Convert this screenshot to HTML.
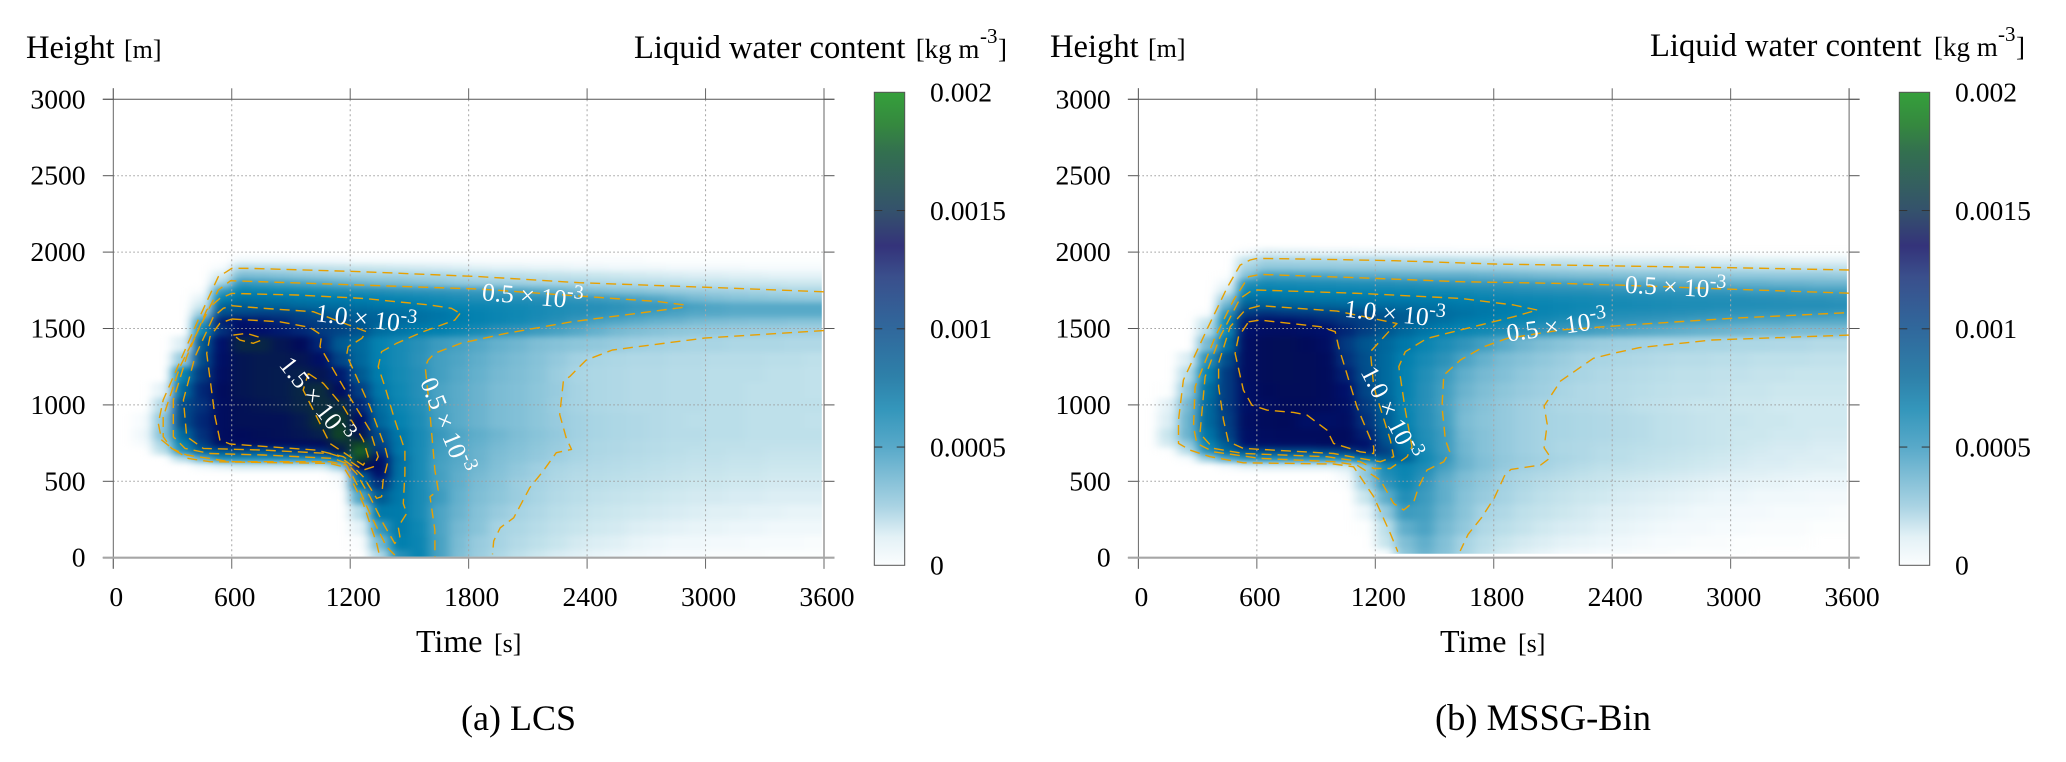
<!DOCTYPE html>
<html lang="en">
<head>
<meta charset="utf-8">
<title>Liquid water content: LCS and MSSG-Bin</title>
<style>
html,body{margin:0;padding:0;background:#fff;}
svg{display:block;font-family:"Liberation Serif","Times New Roman",serif;fill:#000;}
</style>
</head>
<body>
<svg id="fig" xmlns="http://www.w3.org/2000/svg" width="2066" height="762" viewBox="0 0 2066 762">
  <defs>
    <filter id="soft" filterUnits="userSpaceOnUse" x="0" y="0" width="2066" height="762" color-interpolation-filters="sRGB">
      <feGaussianBlur stdDeviation="5.5 2.8"/>
    </filter>
    <linearGradient id="cbar-grad" x1="0" y1="1" x2="0" y2="0">
      <stop offset="0" stop-color="#fbfdfe"/>
      <stop offset="0.06" stop-color="#e3f1f6"/>
      <stop offset="0.125" stop-color="#a9d3e3"/>
      <stop offset="0.25" stop-color="#58a9c9"/>
      <stop offset="0.33" stop-color="#3496bb"/>
      <stop offset="0.4" stop-color="#2e80a9"/>
      <stop offset="0.5" stop-color="#30689c"/>
      <stop offset="0.61" stop-color="#3a4f8c"/>
      <stop offset="0.675" stop-color="#34337a"/>
      <stop offset="0.75" stop-color="#34526c"/>
      <stop offset="0.875" stop-color="#33704f"/>
      <stop offset="0.93" stop-color="#35883f"/>
      <stop offset="1" stop-color="#35a03b"/>
    </linearGradient>
    <clipPath id="clip-lcs"><rect x="113.3" y="99.3" width="708.5" height="457.4"/></clipPath>
    <clipPath id="clip-mssg"><rect x="1138.4" y="99.3" width="708.5" height="454.5"/></clipPath>
  </defs>

  <text y="58" font-size="32.6"><tspan x="26">Height</tspan><tspan x="124" font-size="26">[m]</tspan></text>
  <text y="58" font-size="32.6"><tspan x="634">Liquid water content</tspan><tspan x="915.7" font-size="27">[kg m</tspan><tspan x="980" y="43" font-size="21">-3</tspan><tspan x="998" y="58" font-size="27">]</tspan></text>
  <text y="652" font-size="32"><tspan x="416">Time</tspan><tspan x="494" font-size="26">[s]</tspan></text>
  <text x="461" y="730" font-size="36">(a) LCS</text>

  <text y="57" font-size="32.6"><tspan x="1050">Height</tspan><tspan x="1148" font-size="26">[m]</tspan></text>
  <text y="56" font-size="32.6"><tspan x="1650">Liquid water content</tspan><tspan x="1934" font-size="27">[kg m</tspan><tspan x="1998" y="41" font-size="21">-3</tspan><tspan x="2016" y="56" font-size="27">]</tspan></text>
  <text y="652" font-size="32"><tspan x="1440">Time</tspan><tspan x="1518" font-size="26">[s]</tspan></text>
  <text x="1435" y="730" font-size="36.5">(b) MSSG-Bin</text>

  <g id="panel-lcs"></g>
  <g id="panel-mssg"></g>
</svg>

<script>
// Axis ticks
const timeTicks = [0, 600, 1200, 1800, 2400, 3000, 3600];
const heightTicks = [0, 500, 1000, 1500, 2000, 2500, 3000];
const colorbarTicks = [0, 0.0005, 0.001, 0.0015, 0.002];
const colorbarTickLabels = ["0", "0.0005", "0.001", "0.0015", "0.002"];

// Cell-centre times [s]
const times = [50,150,250,350,450,550,650,750,850,950,1050,1150,1250,1350,1450,1550,1650,1750,1850,1950,2050,2150,2250,2350,2450,2550,2650,2750,2850,2950,3050,3150,3250,3350,3450,3550];

// Liquid water content, units of 1e-5 kg m^-3; one row per height, bottom to top
const heightsLCS = [10,100,200,300,400,500,550,600,650,700,750,800,900,1000,1100,1200,1300,1400,1500,1550,1600,1650,1700,1750,1800,1850,1900,1950];
const lwcLCS = [
[0,0,0,0,0,0,0,0,0,0,0,0,0,22,55,70,47,36,28,23,18,14,11,9,7,6,5,4,3,3,2,2,2,1,1,1],
[0,0,0,0,0,0,0,0,0,0,0,0,2,38,75,68,47,37,29,25,21,18,15,12,10,9,7,6,5,5,4,4,3,3,3,2],
[0,0,0,0,0,0,0,0,0,0,0,0,8,52,78,66,46,38,33,25,23,20,17,15,13,12,10,9,8,7,7,6,6,5,5,5],
[0,0,0,0,0,0,0,0,0,0,0,0,20,80,78,62,46,40,34,29,25,22,19,17,15,14,13,12,11,10,9,9,8,8,7,7],
[0,0,0,0,0,0,0,0,0,0,0,0,45,100,80,62,50,41,36,32,28,24,21,19,17,16,15,14,13,12,12,11,11,10,10,10],
[0,0,0,0,0,0,0,0,0,0,0,2,85,115,82,62,48,42,37,33,28,25,22,20,19,18,17,16,15,14,14,13,13,12,12,12],
[0,0,0,0,0,0,0,0,0,0,0,5,100,125,85,62,48,42,38,34,30,27,23,21,20,19,18,17,16,15,15,14,14,13,13,13],
[0,0,0,0,5,8,12,12,12,12,12,30,135,130,85,62,47,43,39,35,31,27,24,22,21,20,19,18,17,16,16,15,15,14,14,14],
[0,0,0,20,42,60,60,60,60,60,62,85,175,125,88,62,48,44,40,36,33,30,27,24,22,21,20,19,18,17,17,16,16,15,15,15],
[0,0,18,55,95,100,105,100,105,110,115,140,190,115,80,62,49,44,40,37,34,31,28,25,23,22,21,20,19,18,18,17,17,16,16,16],
[0,3,25,70,110,130,132,133,133,133,135,150,175,110,82,62,50,44,41,38,35,32,29,25,23,22,21,20,19,19,18,18,17,17,17,17],
[0,5,35,90,115,132,135,137,138,140,145,175,140,105,80,62,51,45,42,39,36,33,30,26,24,23,22,21,20,20,19,19,18,18,18,18],
[0,3,32,105,118,132,138,138,138,142,155,165,128,92,72,60,48,43,40,37,35,32,29,26,24,23,22,21,20,19,19,19,18,18,18,17],
[0,0,22,105,115,132,138,140,142,147,152,150,118,88,68,58,47,43,40,37,35,32,28,25,23,22,21,21,20,20,19,19,18,18,18,18],
[0,0,8,90,118,133,140,142,143,148,152,132,110,80,65,56,46,43,40,37,35,32,29,25,23,22,21,21,20,20,19,19,18,18,18,17],
[0,0,0,70,112,130,140,142,143,145,140,122,100,75,63,56,48,44,41,38,36,33,28,24,23,22,21,21,20,20,19,19,19,18,18,17],
[0,0,0,30,105,128,140,142,142,140,128,108,92,72,62,54,48,45,42,39,37,34,30,26,24,23,22,22,21,21,20,20,20,19,19,18],
[0,0,0,10,100,125,148,148,140,135,118,100,90,72,62,55,50,47,44,41,39,36,34,32,31,29,27,26,25,24,24,23,23,23,22,22],
[0,0,0,0,65,115,128,125,122,118,112,108,103,88,82,76,74,68,62,55,53,50,47,44,41,38,36,34,32,31,30,29,28,28,27,27],
[0,0,0,0,50,120,125,122,118,112,110,106,100,95,90,85,80,76,72,68,64,60,55,51,47,45,43,41,40,38,37,36,35,35,34,34],
[0,0,0,0,30,105,108,110,110,108,102,98,95,92,88,85,82,76,72,68,65,62,59,56,54,52,50,48,46,44,44,43,43,43,43,43],
[0,0,0,0,15,95,100,95,95,92,90,88,86,82,80,77,72,70,68,66,64,62,60,58,56,54,52,52,50,47,45,44,44,44,44,44],
[0,0,0,0,8,72,85,84,82,80,78,77,75,72,69,66,63,60,58,57,56,55,54,52,50,48,46,44,41,38,36,34,33,32,31,30],
[0,0,0,0,2,50,70,68,66,64,62,60,58,56,54,53,52,51,50,47,45,43,41,38,36,34,33,31,29,28,27,26,25,24,23,23],
[0,0,0,0,0,25,52,50,48,46,44,42,40,38,37,35,33,31,29,28,27,26,25,25,23,22,21,20,19,18,17,16,15,15,14,14],
[0,0,0,0,0,12,37,36,34,32,30,28,27,26,26,25,25,23,21,20,19,18,17,16,15,14,13,12,11,10,10,9,9,8,8,8],
[0,0,0,0,0,3,22,21,20,19,17,16,15,14,13,12,11,10,9,8,8,7,7,6,6,5,5,5,4,4,4,4,3,3,3,3],
[0,0,0,0,0,0,5,5,5,4,4,4,3,3,3,3,3,3,2,2,2,2,2,2,2,2,2,1,1,1,1,1,1,1,1,1]
];

const heightsMSSG = [30,100,200,300,400,500,550,600,650,700,750,800,900,1000,1100,1200,1300,1400,1500,1550,1600,1650,1700,1750,1800,1850,1900,1950,2000];
const lwcMSSG = [
[0,0,0,0,0,0,0,0,0,0,0,0,3,32,40,34,24,17,12,9,7,5,4,3,3,2,2,1,1,1,1,0,0,0,0,0],
[0,0,0,0,0,0,0,0,0,0,0,0,15,36,42,35,25,19,15,12,10,8,7,6,5,4,3,3,2,2,1,1,1,1,0,0],
[0,0,0,0,0,0,0,0,0,0,0,1,18,42,46,38,31,22,19,16,13,11,10,8,7,6,5,4,4,3,3,2,2,2,1,1],
[0,0,0,0,0,0,0,0,0,0,0,6,30,50,48,40,33,25,22,18,16,14,12,10,9,8,7,6,5,5,4,4,3,3,3,2],
[0,0,0,0,0,0,0,0,0,0,0,15,42,58,50,42,34,29,25,21,18,16,14,13,11,10,9,8,7,6,6,5,5,5,4,4],
[0,0,0,0,0,0,0,0,0,0,2,27,52,65,52,42,36,31,26,23,20,18,16,15,13,12,11,10,9,8,8,7,7,6,6,6],
[0,0,0,0,0,0,0,0,0,0,5,32,58,68,55,44,37,32,27,24,22,20,18,16,15,14,13,12,11,10,9,9,8,8,7,7],
[0,0,0,0,4,8,10,10,10,10,12,30,62,70,60,48,40,35,30,27,25,22,20,18,17,16,15,14,13,12,11,10,10,9,9,9],
[0,0,3,28,45,55,58,58,58,58,62,80,100,95,65,52,40,35,31,28,26,24,22,20,19,17,16,15,14,13,12,11,11,10,10,9],
[0,1,20,55,90,102,105,105,105,108,110,118,110,85,62,50,39,34,30,27,25,23,22,20,19,18,17,16,15,14,13,12,11,11,10,10],
[0,12,30,70,100,125,128,130,130,132,132,125,105,80,60,50,39,34,30,27,25,23,22,21,20,19,18,17,16,15,14,13,12,12,11,11],
[0,15,40,82,108,128,132,133,133,133,133,120,102,78,58,50,38,34,30,27,25,24,23,22,21,20,18,17,16,15,14,14,13,13,12,12],
[0,10,40,90,110,130,134,135,128,128,130,115,98,72,56,48,37,33,30,27,25,24,23,22,21,20,18,17,16,15,15,14,14,13,13,13],
[0,8,38,90,112,128,132,135,135,133,128,112,96,70,56,47,38,34,30,27,25,23,22,21,20,18,17,16,15,15,14,14,13,13,13,13],
[0,1,30,85,112,128,135,136,136,134,125,108,92,72,56,48,40,36,32,29,27,24,22,21,20,19,18,17,17,16,15,15,14,14,14,14],
[0,0,20,72,112,130,136,137,136,134,120,105,90,72,58,50,42,38,35,31,28,26,24,22,21,20,19,18,18,17,17,16,16,15,15,15],
[0,0,10,55,105,130,136,137,136,133,115,104,90,74,62,54,46,41,37,34,31,28,25,24,23,22,21,20,20,19,19,18,18,18,17,17],
[0,0,0,38,85,130,136,137,135,130,112,102,92,80,69,60,53,48,43,39,36,33,30,28,27,26,25,25,24,24,23,23,22,22,21,21],
[0,0,0,20,65,125,130,130,128,125,118,110,102,92,82,74,68,64,60,56,53,51,49,47,45,44,43,42,41,40,39,38,38,37,37,37],
[0,0,0,15,70,122,125,125,122,118,113,110,104,98,90,85,78,75,70,66,62,58,56,54,53,52,51,49,48,47,46,45,45,44,44,44],
[0,0,0,2,55,112,115,113,112,110,108,106,102,98,92,88,84,80,76,72,68,65,62,60,58,57,56,55,54,53,53,52,52,51,51,50],
[0,0,0,0,42,100,100,98,97,95,93,92,90,88,85,83,80,79,77,72,70,68,66,64,63,62,61,60,60,59,58,58,57,57,57,56],
[0,0,0,0,30,85,85,83,82,81,80,79,78,77,76,75,73,70,68,66,65,64,63,62,61,60,59,58,58,57,57,56,55,54,54,53],
[0,0,0,0,12,68,74,72,71,70,69,68,67,66,65,64,63,61,59,57,56,55,55,54,53,53,52,52,51,51,50,49,49,48,47,47],
[0,0,0,0,6,55,62,61,60,59,58,57,56,55,54,53,52,51,51,50,49,48,47,46,45,44,44,43,43,42,41,41,40,40,39,39],
[0,0,0,0,1,35,48,47,46,45,44,43,43,42,42,42,42,41,40,39,38,37,36,36,35,34,34,33,32,32,31,31,30,30,30,29],
[0,0,0,0,0,25,32,32,31,31,30,30,29,29,28,27,27,26,26,25,24,24,23,22,22,21,21,20,20,19,19,18,18,17,17,17],
[0,0,0,0,0,18,25,24,24,24,23,23,22,21,21,20,19,18,17,16,15,15,14,13,13,12,12,11,11,10,10,9,9,8,8,8],
[0,0,0,0,0,4,10,9,8,7,7,6,6,5,4,4,3,3,3,2,2,2,2,2,2,2,2,2,1,1,1,1,1,1,1,1]
];

// Contours: [time s, height m]
const contoursLCS = [
[[3600,1740],[2994,1770],[2361,1800],[1861,1839],[1260,1872],[700,1893],[600,1894],[574,1872],[532,1839],[422,1533],[253,1032],[228,879],[245,770],[304,709],[380,650],[490,628],[1097,617],[1165,595],[1207,508],[1266,355],[1334,93],[1350,6]],
[[3600,1486],[2994,1437],[2528,1359],[2395,1293],[2312,1185],[2280,1156],[2261,938],[2294,785],[2321,709],[2244,687],[2177,567],[2110,458],[2028,261],[1960,196],[1927,109],[1921,22]],
[[1426,17],[1384,72],[1300,290],[1232,486],[1182,606],[1097,628],[591,628],[372,672],[295,715],[253,792],[253,923],[338,1250],[456,1555],[532,1752],[594,1813],[1260,1784],[1861,1758],[2762,1676],[2896,1654],[2896,1640],[2660,1600],[2328,1545],[1994,1469],[1762,1404],[1628,1338],[1595,1294],[1580,1250],[1600,1000],[1629,573],[1646,442],[1604,399],[1629,181],[1629,6]],
[[1756,1599],[1730,1555],[1570,1479],[1435,1403],[1359,1348],[1342,1250],[1376,1119],[1426,901],[1477,704],[1477,552],[1469,355],[1486,290],[1443,202],[1452,137],[1426,93],[1367,224],[1300,399],[1232,551],[1182,617],[1114,650],[760,672],[490,682],[363,715],[304,792],[304,1032],[372,1315],[473,1621],[540,1697],[600,1730],[928,1719],[1266,1697],[1604,1654],[1713,1632],[1756,1599]],
[[600,1649],[760,1632],[1013,1610],[1283,1479],[1258,1435],[1190,1381],[1182,1326],[1232,1184],[1300,988],[1376,726],[1393,639],[1367,508],[1359,399],[1334,388],[1266,530],[1215,595],[1148,661],[1097,682],[760,704],[456,715],[372,792],[355,1032],[414,1315],[507,1577],[557,1632],[600,1649]],
[[600,1562],[844,1544],[996,1507],[1055,1457],[1047,1381],[1165,1119],[1300,835],[1342,661],[1317,595],[1266,573],[1165,661],[1030,704],[591,744],[540,770],[515,923],[473,1337],[490,1446],[540,1534],[600,1562]],
[[608,1457],[675,1468],[743,1442],[751,1424],[709,1403],[642,1424],[608,1457]],
[[988,1206],[1064,1141],[1165,988],[1266,770],[1291,661],[1266,606],[1199,661],[1097,748],[1030,923],[962,1097],[988,1206]]
];
const contoursMSSG = [
[[3600,1883],[3005,1898],[2139,1915],[1801,1922],[1293,1944],[955,1952],[600,1959],[566,1948],[515,1915],[448,1763],[346,1490],[228,1163],[203,901],[203,748],[262,704],[363,661],[532,621],[989,613],[1090,595],[1192,399],[1276,159],[1314,39]],
[[3600,1457],[2907,1425],[2539,1375],[2406,1338],[2305,1305],[2138,1156],[2055,993],[2071,873],[2055,720],[2088,655],[2038,607],[1887,578],[1854,535],[1804,393],[1738,262],[1670,153],[1630,44]],
[[3600,1731],[3005,1757],[2437,1784],[2139,1795],[1631,1806],[1124,1832],[617,1854],[558,1839],[482,1686],[389,1446],[287,1119],[279,857],[296,748],[380,693],[617,650],[989,628],[1107,606],[1226,508],[1293,355],[1344,312],[1395,366],[1420,464],[1462,573],[1547,628],[1577,693],[1555,770],[1538,988],[1547,1195],[1631,1294],[1750,1381],[1868,1435],[2139,1490],[2473,1522],[3005,1567],[3600,1604]],
[[2020,1621],[1902,1654],[1631,1697],[1124,1730],[600,1752],[566,1741],[515,1697],[414,1446],[338,1184],[312,813],[380,715],[532,682],[955,661],[1124,628],[1192,584],[1276,584],[1361,661],[1386,726],[1352,966],[1319,1250],[1352,1348],[1462,1435],[1665,1501],[1902,1577],[2020,1621]],
[[566,1632],[617,1649],[1006,1614],[1310,1533],[1276,1490],[1175,1348],[1192,1119],[1276,770],[1293,661],[1226,628],[1124,650],[989,682],[532,715],[456,759],[431,901],[406,1119],[406,1272],[465,1512],[541,1621],[566,1632]],
[[558,1544],[617,1555],[921,1512],[997,1479],[1014,1381],[1107,988],[1192,726],[1192,682],[1124,693],[989,748],[955,835],[854,933],[786,951],[651,966],[575,999],[532,1097],[490,1337],[507,1446],[558,1544]]
];

// Contour labels: text, exponent, anchor time, anchor height, rotation
const labelsLCS = [
["0.5 \u00d7 10","-3",1865,1686,5],
["1.0 \u00d7 10","-3",1021,1549,7],
["1.5 \u00d7 10","-3",836,1261,52],
["0.5 \u00d7 10","-3",1553,1152,68]
];
const labelsMSSG = [
["0.5 \u00d7 10","-3",2463,1734,3],
["0.5 \u00d7 10","-3",1871,1414,-8],
["1.0 \u00d7 10","-3",1040,1577,6],
["1.0 \u00d7 10","-3",1124,1217,63]
];

// Heatmap colour ramp: level in 1e-5 kg m^-3, colour
const rampLevels = [0,5,10,15,25,37,45,55,65,75,90,100,112,125,135,145,150,165,185,200];
const rampColors = ["#ffffff","#f0f8fb","#dceef4","#c8e5ed","#a6d3e3","#7bbcd4","#4fa5c5","#2890b8","#0f88b3","#007fae","#006a9e","#005a92","#023a80","#00106a","#010b5a","#06204c","#0a2a40","#0e3a2c","#125020","#2a8c30"];

const NS = "http://www.w3.org/2000/svg";
const AXIS_TOP = 99.3, AXIS_BOTTOM = 557.7, AXIS_WIDTH = 710.7;
const CB_TOP = 92.3, CB_BOTTOM = 565.3, CB_WIDTH = 30.4;

function hexToRgb(h){return [parseInt(h.substr(1,2),16),parseInt(h.substr(3,2),16),parseInt(h.substr(5,2),16)];}
function colorOf(v){
  let i = 0;
  while (i < rampLevels.length - 2 && v > rampLevels[i+1]) i++;
  const f = Math.max(0, Math.min(1, (v - rampLevels[i]) / (rampLevels[i+1] - rampLevels[i])));
  const a = hexToRgb(rampColors[i]), b = hexToRgb(rampColors[i+1]);
  return "rgb(" + a.map((c,k)=>Math.round(c + (b[k]-c)*f)).join(",") + ")";
}
function yOf(z){return AXIS_BOTTOM - z * (AXIS_BOTTOM - AXIS_TOP) / 3000;}
function line(parent,x1,y1,x2,y2,stroke,width,dash){
  const l = document.createElementNS(NS,"line");
  l.setAttribute("x1",x1);l.setAttribute("y1",y1);l.setAttribute("x2",x2);l.setAttribute("y2",y2);
  l.setAttribute("stroke",stroke);l.setAttribute("stroke-width",width);
  if (dash) l.setAttribute("stroke-dasharray",dash);
  parent.appendChild(l);
  return l;
}
function label(parent,x,y,text,size,anchor){
  const t = document.createElementNS(NS,"text");
  t.setAttribute("x",x);t.setAttribute("y",y);t.setAttribute("font-size",size);
  t.setAttribute("text-anchor",anchor);
  t.textContent = text;
  parent.appendChild(t);
  return t;
}

function drawPanel(root, x0, cbX, clipId, heights, values, contours, labels){
  const xOf = t => x0 + t * AXIS_WIDTH / 3600;
  const xEnd = xOf(3600);

  // heat cells
  const clip = document.createElementNS(NS,"g");
  clip.setAttribute("clip-path","url(#"+clipId+")");
  
  
  const soft = document.createElementNS(NS,"g");
  soft.setAttribute("filter","url(#soft)");
  soft.setAttribute("shape-rendering","crispEdges");
  const halfStep = (times[1]-times[0]) / 2;
  values.forEach((row,r)=>{
    const zLow = r === 0 ? heights[0] - 100 : (heights[r-1] + heights[r]) / 2;
    const zHigh = r === heights.length - 1 ? heights[r] + 25 : (heights[r] + heights[r+1]) / 2;
    row.forEach((v,c)=>{
      if (v <= 0) return;
      const tHigh = c === times.length - 1 ? times[c] + 3*halfStep : times[c] + halfStep;
      const cell = document.createElementNS(NS,"rect");
      cell.setAttribute("x",xOf(times[c]-halfStep));
      cell.setAttribute("y",yOf(zHigh));
      cell.setAttribute("width",xOf(tHigh)-xOf(times[c]-halfStep)+0.5);
      cell.setAttribute("height",yOf(zLow)-yOf(zHigh)+0.5);
      cell.setAttribute("fill",colorOf(v));
      
      
      soft.appendChild(cell);
    });
  });
  clip.appendChild(soft);
  root.appendChild(clip);

  // grid, frame and ticks
  const axes = document.createElementNS(NS,"g");
  
  
  heightTicks.forEach(z=>{
    if (z > 0 && z < 3000) line(axes,x0,yOf(z),xEnd,yOf(z),"#9c9c9c",1,"1.5 2.5");
    line(axes,x0-10.5,yOf(z),x0,yOf(z),"#555",1);
    line(axes,xEnd,yOf(z),xEnd+10.5,yOf(z),"#555",1);
    const t = label(axes,x0-27.7,yOf(z)+9,String(z),27.6,"end");
    
    
  });
  timeTicks.forEach(s=>{
    if (s > 0 && s < 3600) line(axes,xOf(s),AXIS_TOP,xOf(s),AXIS_BOTTOM,"#a6a6a6",1,"2 3");
    line(axes,xOf(s),AXIS_TOP-11,xOf(s),AXIS_TOP,"#666",1);
    line(axes,xOf(s),AXIS_BOTTOM,xOf(s),AXIS_BOTTOM+11,"#666",1);
    const t = label(axes,xOf(s)+3,606,String(s),27.6,"middle");
    
    
  });
  line(axes,x0,AXIS_TOP-11,x0,AXIS_BOTTOM+11,"#666",1);
  line(axes,xEnd,AXIS_TOP-11,xEnd,AXIS_BOTTOM+11,"#666",1);
  line(axes,x0-10.5,AXIS_TOP,xEnd+10.5,AXIS_TOP,"#555",1);
  line(axes,x0-10.5,AXIS_BOTTOM,xEnd+10.5,AXIS_BOTTOM,"#a6a6a6",2.2);
  root.appendChild(axes);

  // contours
  contours.forEach(points=>{
    const p = document.createElementNS(NS,"polyline");
    p.setAttribute("points",points.map(q=>xOf(q[0]).toFixed(1)+","+yOf(q[1]).toFixed(1)).join(" "));
    p.setAttribute("fill","none");
    p.setAttribute("stroke","#e8a000");
    p.setAttribute("stroke-width","1.4");
    p.setAttribute("stroke-dasharray","10 6");
    p.setAttribute("stroke-linejoin","round");
    
    
    root.appendChild(p);
  });

  // contour labels
  labels.forEach(l=>{
    const t = document.createElementNS(NS,"text");
    t.setAttribute("transform","translate("+xOf(l[2]).toFixed(1)+","+yOf(l[3]).toFixed(1)+") rotate("+l[4]+")");
    t.setAttribute("fill","#fff");
    t.setAttribute("font-size","25.5");
    t.appendChild(document.createTextNode(l[0]));
    const sup = document.createElementNS(NS,"tspan");
    sup.setAttribute("dy","-10");
    sup.setAttribute("font-size","20");
    sup.textContent = l[1];
    t.appendChild(sup);
    
    
    root.appendChild(t);
  });

  // colour bar
  const bar = document.createElementNS(NS,"rect");
  bar.setAttribute("x",cbX);bar.setAttribute("y",CB_TOP);
  bar.setAttribute("width",CB_WIDTH);bar.setAttribute("height",CB_BOTTOM-CB_TOP);
  bar.setAttribute("fill","url(#cbar-grad)");
  bar.setAttribute("stroke","#555");bar.setAttribute("stroke-width","1");
  
  
  root.appendChild(bar);
  colorbarTicks.forEach((v,i)=>{
    const y = CB_BOTTOM - v * (CB_BOTTOM - CB_TOP) / 0.002;
    if (v > 0 && v < 0.002){
      line(root,cbX,y,cbX+8,y,"#333",1);
      line(root,cbX+CB_WIDTH-8,y,cbX+CB_WIDTH,y,"#333",1);
    }
    const t = label(root,cbX+55.7,y+9.4,colorbarTickLabels[i],27.6,"start");
    
    
  });
}

drawPanel(document.getElementById("panel-lcs"),113.3,874.3,"clip-lcs",heightsLCS,lwcLCS,contoursLCS,labelsLCS);
drawPanel(document.getElementById("panel-mssg"),1138.4,1899.3,"clip-mssg",heightsMSSG,lwcMSSG,contoursMSSG,labelsMSSG);
</script>
</body>
</html>
